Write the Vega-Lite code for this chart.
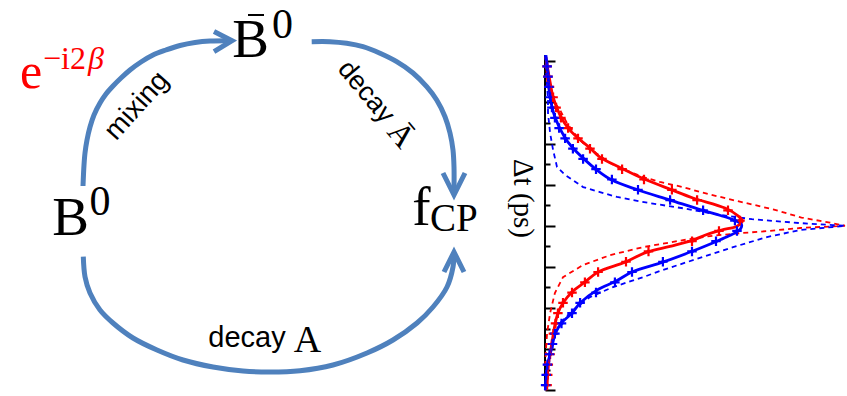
{
  "$schema": "https://vega.github.io/schema/vega-lite/v6.json",
  "padding": 0,
  "spacing": 0,
  "bounds": "flush",
  "config": {"view": {"stroke": null}},
  "datasets": {
    "arcs": [
      {"path": "mixing", "i": 0, "x": 83, "y": 186}, {"path": "mixing", "i": 1, "x": 84, "y": 165}, {"path": "mixing", "i": 2, "x": 85, "y": 153},
      {"path": "mixing", "i": 3, "x": 87, "y": 140}, {"path": "mixing", "i": 4, "x": 90, "y": 127}, {"path": "mixing", "i": 5, "x": 94, "y": 115},
      {"path": "mixing", "i": 6, "x": 100, "y": 103}, {"path": "mixing", "i": 7, "x": 106, "y": 94}, {"path": "mixing", "i": 8, "x": 113, "y": 86},
      {"path": "mixing", "i": 9, "x": 121, "y": 78}, {"path": "mixing", "i": 10, "x": 130, "y": 70}, {"path": "mixing", "i": 11, "x": 141, "y": 62},
      {"path": "mixing", "i": 12, "x": 153, "y": 55}, {"path": "mixing", "i": 13, "x": 166, "y": 50}, {"path": "mixing", "i": 14, "x": 180, "y": 45.5},
      {"path": "mixing", "i": 15, "x": 195, "y": 42.5}, {"path": "mixing", "i": 16, "x": 210, "y": 41}, {"path": "mixing", "i": 17, "x": 229, "y": 40.7},
      {"path": "decayAbar", "i": 0, "x": 311.7, "y": 41.7}, {"path": "decayAbar", "i": 1, "x": 330, "y": 41.7}, {"path": "decayAbar", "i": 2, "x": 346.7, "y": 43.3},
      {"path": "decayAbar", "i": 3, "x": 363, "y": 46.7}, {"path": "decayAbar", "i": 4, "x": 380, "y": 53.3}, {"path": "decayAbar", "i": 5, "x": 396.7, "y": 61.7},
      {"path": "decayAbar", "i": 6, "x": 413, "y": 73}, {"path": "decayAbar", "i": 7, "x": 426.7, "y": 86.7}, {"path": "decayAbar", "i": 8, "x": 436.7, "y": 100},
      {"path": "decayAbar", "i": 9, "x": 445, "y": 116.7}, {"path": "decayAbar", "i": 10, "x": 450, "y": 133}, {"path": "decayAbar", "i": 11, "x": 453, "y": 150},
      {"path": "decayAbar", "i": 12, "x": 454, "y": 167}, {"path": "decayAbar", "i": 13, "x": 454, "y": 192},
      {"path": "decayA", "i": 0, "x": 83.3, "y": 256.7}, {"path": "decayA", "i": 1, "x": 85, "y": 276.7}, {"path": "decayA", "i": 2, "x": 90, "y": 293},
      {"path": "decayA", "i": 3, "x": 100, "y": 310}, {"path": "decayA", "i": 4, "x": 113, "y": 323}, {"path": "decayA", "i": 5, "x": 133, "y": 338},
      {"path": "decayA", "i": 6, "x": 157, "y": 350}, {"path": "decayA", "i": 7, "x": 183, "y": 360}, {"path": "decayA", "i": 8, "x": 213, "y": 367},
      {"path": "decayA", "i": 9, "x": 243, "y": 371}, {"path": "decayA", "i": 10, "x": 270, "y": 372}, {"path": "decayA", "i": 11, "x": 300, "y": 370.7},
      {"path": "decayA", "i": 12, "x": 333, "y": 365}, {"path": "decayA", "i": 13, "x": 367, "y": 353}, {"path": "decayA", "i": 14, "x": 393, "y": 340},
      {"path": "decayA", "i": 15, "x": 417, "y": 323}, {"path": "decayA", "i": 16, "x": 433, "y": 307}, {"path": "decayA", "i": 17, "x": 447, "y": 287},
      {"path": "decayA", "i": 18, "x": 453, "y": 267}, {"path": "decayA", "i": 19, "x": 454, "y": 254}
    ],
    "heads": [
      {"path": "toB0bar", "i": 0, "x": 214, "y": 31.5}, {"path": "toB0bar", "i": 1, "x": 232, "y": 40.7}, {"path": "toB0bar", "i": 2, "x": 214, "y": 51.7},
      {"path": "toFcpTop", "i": 0, "x": 443, "y": 173}, {"path": "toFcpTop", "i": 1, "x": 454, "y": 195}, {"path": "toFcpTop", "i": 2, "x": 465, "y": 173},
      {"path": "toFcpBottom", "i": 0, "x": 444, "y": 272}, {"path": "toFcpBottom", "i": 1, "x": 454, "y": 252}, {"path": "toFcpBottom", "i": 2, "x": 464, "y": 272}
    ],
    "bars": [{"x": 248, "x2": 264, "y": 15}],
    "labels": [
      {"role": "big", "text": "B", "x": 250.5, "y": 57},
      {"role": "big", "text": "B", "x": 70.5, "y": 235},
      {"role": "big", "text": "f", "x": 421.5, "y": 225},
      {"role": "sup", "text": "0", "x": 282.5, "y": 38},
      {"role": "sup", "text": "0", "x": 100, "y": 215},
      {"role": "sub", "text": "CP", "x": 430, "y": 231},
      {"role": "phase", "text": "e", "x": 31, "y": 88},
      {"role": "phaseExp", "text": "−i2", "x": 43, "y": 69},
      {"role": "phaseBeta", "text": "β", "x": 88, "y": 69},
      {"role": "mixing", "text": "mixing", "x": 137, "y": 106},
      {"role": "tiltDecay", "text": "decay", "x": 366, "y": 92},
      {"role": "tiltAmp", "text": "Ā", "x": 401, "y": 135},
      {"role": "decay", "text": "decay", "x": 247, "y": 346.7},
      {"role": "amp", "text": "A", "x": 307.5, "y": 351.7}
    ],
    "axisline": [{"rate": 0, "dt": -8.3, "dt2": 8}],
    "curves": [
      {"series": "q=+1", "kind": "fit", "dt": -8.21, "rate": 0.003}, {"series": "q=+1", "kind": "fit", "dt": -7.82, "rate": 0.007},
      {"series": "q=+1", "kind": "fit", "dt": -6.99, "rate": 0.017}, {"series": "q=+1", "kind": "fit", "dt": -6.26, "rate": 0.027},
      {"series": "q=+1", "kind": "fit", "dt": -5.38, "rate": 0.05}, {"series": "q=+1", "kind": "fit", "dt": -4.75, "rate": 0.077},
      {"series": "q=+1", "kind": "fit", "dt": -4.27, "rate": 0.11}, {"series": "q=+1", "kind": "fit", "dt": -3.78, "rate": 0.15},
      {"series": "q=+1", "kind": "fit", "dt": -3.34, "rate": 0.183}, {"series": "q=+1", "kind": "fit", "dt": -2.81, "rate": 0.253},
      {"series": "q=+1", "kind": "fit", "dt": -2.32, "rate": 0.323}, {"series": "q=+1", "kind": "fit", "dt": -1.74, "rate": 0.423},
      {"series": "q=+1", "kind": "fit", "dt": -1.35, "rate": 0.493}, {"series": "q=+1", "kind": "fit", "dt": -0.86, "rate": 0.6},
      {"series": "q=+1", "kind": "fit", "dt": -0.52, "rate": 0.64}, {"series": "q=+1", "kind": "fit", "dt": -0.23, "rate": 0.658},
      {"series": "q=+1", "kind": "fit", "dt": 0.02, "rate": 0.64}, {"series": "q=+1", "kind": "fit", "dt": 0.21, "rate": 0.588},
      {"series": "q=+1", "kind": "fit", "dt": 0.45, "rate": 0.535}, {"series": "q=+1", "kind": "fit", "dt": 0.7, "rate": 0.493},
      {"series": "q=+1", "kind": "fit", "dt": 1.0, "rate": 0.417}, {"series": "q=+1", "kind": "fit", "dt": 1.28, "rate": 0.34},
      {"series": "q=+1", "kind": "fit", "dt": 1.77, "rate": 0.267}, {"series": "q=+1", "kind": "fit", "dt": 2.25, "rate": 0.177},
      {"series": "q=+1", "kind": "fit", "dt": 2.74, "rate": 0.133}, {"series": "q=+1", "kind": "fit", "dt": 3.22, "rate": 0.09},
      {"series": "q=+1", "kind": "fit", "dt": 3.76, "rate": 0.06}, {"series": "q=+1", "kind": "fit", "dt": 4.25, "rate": 0.043},
      {"series": "q=+1", "kind": "fit", "dt": 4.83, "rate": 0.033}, {"series": "q=+1", "kind": "fit", "dt": 5.7, "rate": 0.023},
      {"series": "q=+1", "kind": "fit", "dt": 6.87, "rate": 0.01}, {"series": "q=+1", "kind": "fit", "dt": 7.65, "rate": 0.007},
      {"series": "q=+1", "kind": "fit", "dt": 8.0, "rate": 0.003},

      {"series": "q=-1", "kind": "fit", "dt": -8.3, "rate": 0.003}, {"series": "q=-1", "kind": "fit", "dt": -7.43, "rate": 0.01},
      {"series": "q=-1", "kind": "fit", "dt": -6.26, "rate": 0.017}, {"series": "q=-1", "kind": "fit", "dt": -5.29, "rate": 0.033},
      {"series": "q=-1", "kind": "fit", "dt": -4.27, "rate": 0.067}, {"series": "q=-1", "kind": "fit", "dt": -3.83, "rate": 0.09},
      {"series": "q=-1", "kind": "fit", "dt": -3.29, "rate": 0.127}, {"series": "q=-1", "kind": "fit", "dt": -2.71, "rate": 0.173},
      {"series": "q=-1", "kind": "fit", "dt": -2.22, "rate": 0.223}, {"series": "q=-1", "kind": "fit", "dt": -1.74, "rate": 0.31},
      {"series": "q=-1", "kind": "fit", "dt": -1.25, "rate": 0.417}, {"series": "q=-1", "kind": "fit", "dt": -0.76, "rate": 0.523},
      {"series": "q=-1", "kind": "fit", "dt": -0.5, "rate": 0.585}, {"series": "q=-1", "kind": "fit", "dt": -0.28, "rate": 0.63},
      {"series": "q=-1", "kind": "fit", "dt": -0.06, "rate": 0.655}, {"series": "q=-1", "kind": "fit", "dt": 0.15, "rate": 0.652},
      {"series": "q=-1", "kind": "fit", "dt": 0.31, "rate": 0.638}, {"series": "q=-1", "kind": "fit", "dt": 0.55, "rate": 0.605},
      {"series": "q=-1", "kind": "fit", "dt": 0.79, "rate": 0.567}, {"series": "q=-1", "kind": "fit", "dt": 1.23, "rate": 0.493},
      {"series": "q=-1", "kind": "fit", "dt": 1.77, "rate": 0.393}, {"series": "q=-1", "kind": "fit", "dt": 2.25, "rate": 0.29},
      {"series": "q=-1", "kind": "fit", "dt": 2.69, "rate": 0.237}, {"series": "q=-1", "kind": "fit", "dt": 3.13, "rate": 0.173},
      {"series": "q=-1", "kind": "fit", "dt": 3.76, "rate": 0.117}, {"series": "q=-1", "kind": "fit", "dt": 4.25, "rate": 0.09},
      {"series": "q=-1", "kind": "fit", "dt": 4.73, "rate": 0.055}, {"series": "q=-1", "kind": "fit", "dt": 5.22, "rate": 0.035},
      {"series": "q=-1", "kind": "fit", "dt": 5.9, "rate": 0.023}, {"series": "q=-1", "kind": "fit", "dt": 6.68, "rate": 0.01},
      {"series": "q=-1", "kind": "fit", "dt": 7.36, "rate": 0.004}, {"series": "q=-1", "kind": "fit", "dt": 8.0, "rate": 0.001},

      {"series": "q=+1", "kind": "ideal", "dt": -8.06, "rate": 0.003}, {"series": "q=+1", "kind": "ideal", "dt": -7.09, "rate": 0.007},
      {"series": "q=+1", "kind": "ideal", "dt": -6.6, "rate": 0.013}, {"series": "q=+1", "kind": "ideal", "dt": -6.11, "rate": 0.027},
      {"series": "q=+1", "kind": "ideal", "dt": -5.63, "rate": 0.05}, {"series": "q=+1", "kind": "ideal", "dt": -5.0, "rate": 0.073},
      {"series": "q=+1", "kind": "ideal", "dt": -4.51, "rate": 0.097}, {"series": "q=+1", "kind": "ideal", "dt": -4.02, "rate": 0.127},
      {"series": "q=+1", "kind": "ideal", "dt": -3.54, "rate": 0.17}, {"series": "q=+1", "kind": "ideal", "dt": -3.05, "rate": 0.217},
      {"series": "q=+1", "kind": "ideal", "dt": -2.71, "rate": 0.267}, {"series": "q=+1", "kind": "ideal", "dt": -2.37, "rate": 0.327},
      {"series": "q=+1", "kind": "ideal", "dt": -2.13, "rate": 0.383}, {"series": "q=+1", "kind": "ideal", "dt": -1.88, "rate": 0.46},
      {"series": "q=+1", "kind": "ideal", "dt": -1.64, "rate": 0.517}, {"series": "q=+1", "kind": "ideal", "dt": -1.25, "rate": 0.627},
      {"series": "q=+1", "kind": "ideal", "dt": -0.8, "rate": 0.76}, {"series": "q=+1", "kind": "ideal", "dt": -0.4, "rate": 0.855},
      {"series": "q=+1", "kind": "ideal", "dt": -0.15, "rate": 0.95}, {"series": "q=+1", "kind": "ideal", "dt": 0.0, "rate": 1.0},
      {"series": "q=+1", "kind": "ideal", "dt": 0.03, "rate": 0.96}, {"series": "q=+1", "kind": "ideal", "dt": 0.11, "rate": 0.85},
      {"series": "q=+1", "kind": "ideal", "dt": 0.26, "rate": 0.74}, {"series": "q=+1", "kind": "ideal", "dt": 0.36, "rate": 0.65},
      {"series": "q=+1", "kind": "ideal", "dt": 0.5, "rate": 0.55}, {"series": "q=+1", "kind": "ideal", "dt": 0.7, "rate": 0.46},
      {"series": "q=+1", "kind": "ideal", "dt": 1.04, "rate": 0.327}, {"series": "q=+1", "kind": "ideal", "dt": 1.43, "rate": 0.217},
      {"series": "q=+1", "kind": "ideal", "dt": 1.91, "rate": 0.127}, {"series": "q=+1", "kind": "ideal", "dt": 2.5, "rate": 0.06},
      {"series": "q=+1", "kind": "ideal", "dt": 3.27, "rate": 0.033}, {"series": "q=+1", "kind": "ideal", "dt": 4.25, "rate": 0.017},
      {"series": "q=+1", "kind": "ideal", "dt": 5.22, "rate": 0.007}, {"series": "q=+1", "kind": "ideal", "dt": 6.05, "rate": 0.003},
      {"series": "q=+1", "kind": "ideal", "dt": 7.02, "rate": 0.0},

      {"series": "q=-1", "kind": "ideal", "dt": -8.3, "rate": 0.0}, {"series": "q=-1", "kind": "ideal", "dt": -6.11, "rate": 0.01},
      {"series": "q=-1", "kind": "ideal", "dt": -5.48, "rate": 0.01}, {"series": "q=-1", "kind": "ideal", "dt": -4.51, "rate": 0.017},
      {"series": "q=-1", "kind": "ideal", "dt": -3.68, "rate": 0.027}, {"series": "q=-1", "kind": "ideal", "dt": -2.86, "rate": 0.04},
      {"series": "q=-1", "kind": "ideal", "dt": -2.47, "rate": 0.067}, {"series": "q=-1", "kind": "ideal", "dt": -2.08, "rate": 0.107},
      {"series": "q=-1", "kind": "ideal", "dt": -1.88, "rate": 0.127}, {"series": "q=-1", "kind": "ideal", "dt": -1.64, "rate": 0.183},
      {"series": "q=-1", "kind": "ideal", "dt": -1.4, "rate": 0.24}, {"series": "q=-1", "kind": "ideal", "dt": -1.25, "rate": 0.293},
      {"series": "q=-1", "kind": "ideal", "dt": -1.1, "rate": 0.35}, {"series": "q=-1", "kind": "ideal", "dt": -0.85, "rate": 0.46},
      {"series": "q=-1", "kind": "ideal", "dt": -0.55, "rate": 0.573}, {"series": "q=-1", "kind": "ideal", "dt": -0.32, "rate": 0.69},
      {"series": "q=-1", "kind": "ideal", "dt": -0.13, "rate": 0.85}, {"series": "q=-1", "kind": "ideal", "dt": -0.03, "rate": 0.96},
      {"series": "q=-1", "kind": "ideal", "dt": 0.0, "rate": 1.0}, {"series": "q=-1", "kind": "ideal", "dt": 0.06, "rate": 0.96},
      {"series": "q=-1", "kind": "ideal", "dt": 0.21, "rate": 0.85}, {"series": "q=-1", "kind": "ideal", "dt": 0.55, "rate": 0.74},
      {"series": "q=-1", "kind": "ideal", "dt": 1.04, "rate": 0.627}, {"series": "q=-1", "kind": "ideal", "dt": 1.77, "rate": 0.473},
      {"series": "q=-1", "kind": "ideal", "dt": 2.15, "rate": 0.393}, {"series": "q=-1", "kind": "ideal", "dt": 2.5, "rate": 0.327},
      {"series": "q=-1", "kind": "ideal", "dt": 2.98, "rate": 0.227}, {"series": "q=-1", "kind": "ideal", "dt": 3.47, "rate": 0.15},
      {"series": "q=-1", "kind": "ideal", "dt": 4.1, "rate": 0.093}, {"series": "q=-1", "kind": "ideal", "dt": 4.73, "rate": 0.05},
      {"series": "q=-1", "kind": "ideal", "dt": 5.56, "rate": 0.027}, {"series": "q=-1", "kind": "ideal", "dt": 6.39, "rate": 0.017},
      {"series": "q=-1", "kind": "ideal", "dt": 7.36, "rate": 0.007}, {"series": "q=-1", "kind": "ideal", "dt": 7.99, "rate": 0.003}
    ],
    "points": [
      {"series": "q=+1", "dt": -7.75, "rate": 0.007}, {"series": "q=+1", "dt": -7.25, "rate": 0.01}, {"series": "q=+1", "dt": -6.75, "rate": 0.015},
      {"series": "q=+1", "dt": -6.25, "rate": 0.027}, {"series": "q=+1", "dt": -5.75, "rate": 0.037}, {"series": "q=+1", "dt": -5.25, "rate": 0.053},
      {"series": "q=+1", "dt": -4.75, "rate": 0.077}, {"series": "q=+1", "dt": -4.25, "rate": 0.11}, {"series": "q=+1", "dt": -3.75, "rate": 0.15},
      {"series": "q=+1", "dt": -3.25, "rate": 0.19}, {"series": "q=+1", "dt": -2.75, "rate": 0.257}, {"series": "q=+1", "dt": -2.25, "rate": 0.33},
      {"series": "q=+1", "dt": -1.75, "rate": 0.423}, {"series": "q=+1", "dt": -1.25, "rate": 0.507}, {"series": "q=+1", "dt": -0.75, "rate": 0.61},
      {"series": "q=+1", "dt": -0.25, "rate": 0.65}, {"series": "q=+1", "dt": 0.25, "rate": 0.58}, {"series": "q=+1", "dt": 0.75, "rate": 0.49},
      {"series": "q=+1", "dt": 1.25, "rate": 0.345}, {"series": "q=+1", "dt": 1.75, "rate": 0.27}, {"series": "q=+1", "dt": 2.25, "rate": 0.177},
      {"series": "q=+1", "dt": 2.75, "rate": 0.133}, {"series": "q=+1", "dt": 3.25, "rate": 0.09}, {"series": "q=+1", "dt": 3.75, "rate": 0.06},
      {"series": "q=+1", "dt": 4.25, "rate": 0.043}, {"series": "q=+1", "dt": 4.75, "rate": 0.035}, {"series": "q=+1", "dt": 5.25, "rate": 0.028},
      {"series": "q=+1", "dt": 5.75, "rate": 0.023}, {"series": "q=+1", "dt": 6.25, "rate": 0.017}, {"series": "q=+1", "dt": 6.75, "rate": 0.011},
      {"series": "q=+1", "dt": 7.25, "rate": 0.009}, {"series": "q=+1", "dt": 7.75, "rate": 0.007},
      {"series": "q=-1", "dt": -7.75, "rate": 0.007}, {"series": "q=-1", "dt": -7.25, "rate": 0.01}, {"series": "q=-1", "dt": -6.75, "rate": 0.013},
      {"series": "q=-1", "dt": -6.25, "rate": 0.017}, {"series": "q=-1", "dt": -5.75, "rate": 0.023}, {"series": "q=-1", "dt": -5.25, "rate": 0.033},
      {"series": "q=-1", "dt": -4.75, "rate": 0.047}, {"series": "q=-1", "dt": -4.25, "rate": 0.067}, {"series": "q=-1", "dt": -3.75, "rate": 0.093},
      {"series": "q=-1", "dt": -3.25, "rate": 0.127}, {"series": "q=-1", "dt": -2.75, "rate": 0.17}, {"series": "q=-1", "dt": -2.25, "rate": 0.223},
      {"series": "q=-1", "dt": -1.75, "rate": 0.31}, {"series": "q=-1", "dt": -1.25, "rate": 0.417}, {"series": "q=-1", "dt": -0.75, "rate": 0.527},
      {"series": "q=-1", "dt": -0.25, "rate": 0.633}, {"series": "q=-1", "dt": 0.25, "rate": 0.64}, {"series": "q=-1", "dt": 0.75, "rate": 0.57},
      {"series": "q=-1", "dt": 1.25, "rate": 0.49}, {"series": "q=-1", "dt": 1.75, "rate": 0.393}, {"series": "q=-1", "dt": 2.25, "rate": 0.29},
      {"series": "q=-1", "dt": 2.75, "rate": 0.233}, {"series": "q=-1", "dt": 3.25, "rate": 0.17}, {"series": "q=-1", "dt": 3.75, "rate": 0.117},
      {"series": "q=-1", "dt": 4.25, "rate": 0.09}, {"series": "q=-1", "dt": 4.75, "rate": 0.055}, {"series": "q=-1", "dt": 5.25, "rate": 0.033},
      {"series": "q=-1", "dt": 5.75, "rate": 0.025}, {"series": "q=-1", "dt": 6.25, "rate": 0.015}, {"series": "q=-1", "dt": 6.75, "rate": 0.008},
      {"series": "q=-1", "dt": 7.25, "rate": 0.004}, {"series": "q=-1", "dt": 7.75, "rate": 0.002}
    ]
  },
  "hconcat": [
    {
      "width": 545,
      "height": 396,
      "encoding": {
        "x": {"field": "x", "type": "quantitative", "scale": {"domain": [0, 545], "nice": false, "zero": false}, "axis": null},
        "y": {"field": "y", "type": "quantitative", "scale": {"domain": [0, 396], "reverse": true, "nice": false, "zero": false}, "axis": null}
      },
      "layer": [
        {
          "data": {"name": "arcs"},
          "mark": {"type": "line", "interpolate": "catmull-rom", "stroke": "#4F81BD", "strokeWidth": 5, "strokeCap": "butt"},
          "encoding": {"detail": {"field": "path", "type": "nominal"}, "order": {"field": "i", "type": "quantitative"}}
        },
        {
          "data": {"name": "heads"},
          "mark": {"type": "line", "stroke": "#4F81BD", "strokeWidth": 5, "strokeCap": "butt", "strokeJoin": "miter"},
          "encoding": {"detail": {"field": "path", "type": "nominal"}, "order": {"field": "i", "type": "quantitative"}}
        },
        {
          "data": {"name": "bars"},
          "mark": {"type": "rule", "color": "black", "strokeWidth": 2},
          "encoding": {"x2": {"field": "x2"}}
        },
        {
          "data": {"name": "labels"},
          "transform": [{"filter": "datum.role === 'big'"}],
          "mark": {"type": "text", "font": "Liberation Serif", "fontSize": 55, "align": "center", "baseline": "alphabetic", "color": "black"},
          "encoding": {"text": {"field": "text"}}
        },
        {
          "data": {"name": "labels"},
          "transform": [{"filter": "datum.role === 'sup'"}],
          "mark": {"type": "text", "font": "Liberation Serif", "fontSize": 42, "align": "center", "baseline": "alphabetic", "color": "black"},
          "encoding": {"text": {"field": "text"}}
        },
        {
          "data": {"name": "labels"},
          "transform": [{"filter": "datum.role === 'sub'"}],
          "mark": {"type": "text", "font": "Liberation Serif", "fontSize": 39, "align": "left", "baseline": "alphabetic", "color": "black"},
          "encoding": {"text": {"field": "text"}}
        },
        {
          "data": {"name": "labels"},
          "transform": [{"filter": "datum.role === 'phase'"}],
          "mark": {"type": "text", "font": "Liberation Serif", "fontSize": 50, "align": "center", "baseline": "alphabetic", "color": "#ff0000"},
          "encoding": {"text": {"field": "text"}}
        },
        {
          "data": {"name": "labels"},
          "transform": [{"filter": "datum.role === 'phaseExp'"}],
          "mark": {"type": "text", "font": "Liberation Serif", "fontSize": 32, "align": "left", "baseline": "alphabetic", "color": "#ff0000"},
          "encoding": {"text": {"field": "text"}}
        },
        {
          "data": {"name": "labels"},
          "transform": [{"filter": "datum.role === 'phaseBeta'"}],
          "mark": {"type": "text", "font": "Liberation Serif", "fontSize": 32, "fontStyle": "italic", "align": "left", "baseline": "alphabetic", "color": "#ff0000"},
          "encoding": {"text": {"field": "text"}}
        },
        {
          "data": {"name": "labels"},
          "transform": [{"filter": "datum.role === 'mixing'"}],
          "mark": {"type": "text", "font": "Liberation Sans", "fontSize": 28, "angle": -48, "align": "center", "baseline": "middle", "color": "black"},
          "encoding": {"text": {"field": "text"}}
        },
        {
          "data": {"name": "labels"},
          "transform": [{"filter": "datum.role === 'tiltDecay'"}],
          "mark": {"type": "text", "font": "Liberation Sans", "fontSize": 27, "angle": 50, "align": "center", "baseline": "middle", "color": "black"},
          "encoding": {"text": {"field": "text"}}
        },
        {
          "data": {"name": "labels"},
          "transform": [{"filter": "datum.role === 'tiltAmp'"}],
          "mark": {"type": "text", "font": "Liberation Serif", "fontSize": 32, "angle": 50, "align": "center", "baseline": "middle", "color": "black"},
          "encoding": {"text": {"field": "text"}}
        },
        {
          "data": {"name": "labels"},
          "transform": [{"filter": "datum.role === 'decay'"}],
          "mark": {"type": "text", "font": "Liberation Sans", "fontSize": 29, "align": "center", "baseline": "alphabetic", "color": "black"},
          "encoding": {"text": {"field": "text"}}
        },
        {
          "data": {"name": "labels"},
          "transform": [{"filter": "datum.role === 'amp'"}],
          "mark": {"type": "text", "font": "Liberation Serif", "fontSize": 38, "align": "center", "baseline": "alphabetic", "color": "black"},
          "encoding": {"text": {"field": "text"}}
        }
      ]
    },
    {
      "width": 302,
      "height": 396,
      "encoding": {
        "x": {"field": "rate", "type": "quantitative", "scale": {"domain": [0, 1.0067], "nice": false, "zero": false}, "axis": null},
        "y": {
          "field": "dt",
          "type": "quantitative",
          "scale": {"domain": [-10.98, 8.28], "reverse": true, "nice": false, "zero": false},
          "axis": {
            "orient": "left",
            "values": [-8, -7, -6, -5, -4, -3, -2, -1, 0, 1, 2, 3, 4, 5, 6, 7, 8],
            "labels": false,
            "domain": false,
            "grid": false,
            "ticks": true,
            "tickColor": "black",
            "tickWidth": 2,
            "tickSize": {"condition": {"test": "datum.value % 2 === 0", "value": -10}, "value": -5},
            "title": "Δt (ps)",
            "titleFont": "Liberation Serif",
            "titleFontSize": 29,
            "titleFontWeight": "normal",
            "titleColor": "black",
            "titleAngle": 90,
            "titlePadding": 37
          }
        }
      },
      "layer": [
        {
          "data": {"name": "axisline"},
          "mark": {"type": "rule", "color": "black", "strokeWidth": 2},
          "encoding": {"y2": {"field": "dt2"}}
        },
        {
          "data": {"name": "curves"},
          "transform": [{"filter": "datum.kind === 'ideal'"}],
          "mark": {"type": "line", "strokeWidth": 1.8, "strokeDash": [5, 4]},
          "encoding": {
            "color": {"field": "series", "type": "nominal", "scale": {"domain": ["q=+1", "q=-1"], "range": ["#ff0000", "#0000ff"]}, "legend": null},
            "order": {"field": "dt", "type": "quantitative"}
          }
        },
        {
          "data": {"name": "curves"},
          "transform": [{"filter": "datum.kind === 'fit'"}],
          "mark": {"type": "line", "strokeWidth": 2.8, "interpolate": "catmull-rom"},
          "encoding": {
            "color": {"field": "series", "type": "nominal", "scale": {"domain": ["q=+1", "q=-1"], "range": ["#ff0000", "#0000ff"]}, "legend": null},
            "order": {"field": "dt", "type": "quantitative"}
          }
        },
        {
          "data": {"name": "points"},
          "mark": {"type": "point", "shape": "M-1,0H1M0,-1V1", "size": 90, "filled": false, "strokeWidth": 2.2, "opacity": 1},
          "encoding": {
            "color": {"field": "series", "type": "nominal", "scale": {"domain": ["q=+1", "q=-1"], "range": ["#ff0000", "#0000ff"]}, "legend": null}
          }
        },
        {
          "data": {"name": "points"},
          "mark": {"type": "point", "shape": "diamond", "size": 26, "filled": true, "opacity": 1},
          "encoding": {
            "color": {"field": "series", "type": "nominal", "scale": {"domain": ["q=+1", "q=-1"], "range": ["#ff0000", "#0000ff"]}, "legend": null}
          }
        }
      ]
    }
  ]
}
